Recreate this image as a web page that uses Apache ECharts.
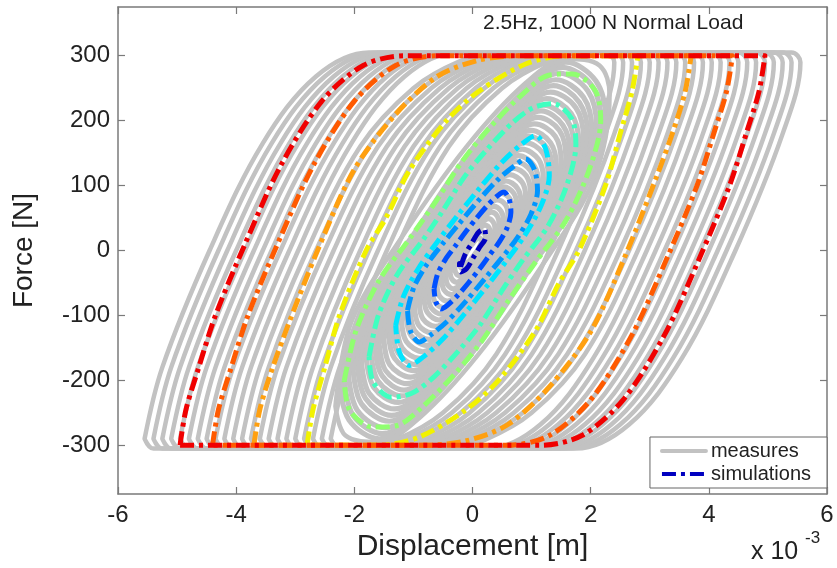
<!DOCTYPE html>
<html><head><meta charset="utf-8">
<script src="https://cdn.jsdelivr.net/npm/echarts@6/dist/echarts.min.js"></script>
<style>html,body{margin:0;padding:0;background:#fff}#c{width:837px;height:568px}</style>
</head><body><div id="c"></div>
<script>
// Axis ticks (displacement in units of 1e-3 m, force in N)
const xTicks = [-6, -4, -2, 0, 2, 4, 6];
const yTicks = [-300, -200, -100, 0, 100, 200, 300];

// ---- Simulated loops (dash-dot, jet colours) ----
const simDarkBlue = [[-0.2,-25],[-0.12,-5],[-0.02,10],[0.1,28],[0.2,33],[0.22,20],[0.12,5],[0.02,-10],[-0.1,-28],[-0.2,-33],[-0.22,-20],[-0.2,-25]];
const simBlue = [[-0.65,-59],[-0.59,-36],[-0.46,-14],[-0.29,7],[-0.13,27],[0.07,50],[0.26,70],[0.42,84],[0.53,90],[0.62,79],[0.65,59],[0.59,36],[0.46,14],[0.29,-7],[0.13,-27],[-0.07,-50],[-0.26,-70],[-0.42,-84],[-0.53,-90],[-0.62,-79],[-0.65,-59]];
const simLightBlue = [[-1.1,-92],[-0.99,-56],[-0.77,-21],[-0.5,11],[-0.22,42],[0.11,78],[0.44,110],[0.72,131],[0.9,141],[1.05,124],[1.1,92],[0.99,56],[0.77,21],[0.5,-11],[0.22,-42],[-0.11,-78],[-0.44,-110],[-0.72,-131],[-0.9,-141],[-1.05,-124],[-1.1,-92]];
const simCyan = [[-1.3,-115],[-1.17,-71],[-0.91,-27],[-0.59,14],[-0.26,53],[0.13,97],[0.52,138],[0.85,165],[1.07,177],[1.24,156],[1.3,115],[1.17,71],[0.91,27],[0.59,-14],[0.26,-53],[-0.13,-97],[-0.52,-138],[-0.85,-165],[-1.07,-177],[-1.24,-156],[-1.3,-115]];
const simAqua = [[-1.75,-163],[-1.59,-99],[-1.28,-38],[-0.84,16],[-0.49,63],[-0.14,113],[0.23,154],[0.68,197],[1.03,220],[1.37,226],[1.68,203],[1.75,163],[1.59,99],[1.28,38],[0.84,-16],[0.49,-63],[0.14,-113],[-0.23,-154],[-0.68,-197],[-1.03,-220],[-1.37,-226],[-1.68,-203],[-1.75,-163]];
const simLightGreen = [[-2.17,-200],[-1.97,-123],[-1.58,-46],[-1.05,20],[-0.61,77],[-0.17,138],[0.29,189],[0.85,241],[1.29,270],[1.69,272],[2.08,246],[2.17,200],[1.97,123],[1.58,46],[1.05,-20],[0.61,-77],[0.17,-138],[-0.29,-189],[-0.85,-241],[-1.29,-270],[-1.69,-272],[-2.08,-246],[-2.17,-200]];
const simYellow = [[-2.8,-300],[-2.7,-245],[-2.5,-180],[-2.25,-100],[-1.8,0],[-1.46,51],[-1.07,123],[-0.44,200],[0.12,246],[0.92,288],[1.6,300],[2.8,300],[2.7,245],[2.5,180],[2.25,100],[1.8,0],[1.46,-51],[1.07,-123],[0.44,-200],[-0.12,-246],[-0.92,-288],[-1.6,-300],[-2.8,-300]];
const simOrange = [[-3.7,-300],[-3.6,-245],[-3.4,-185],[-3.1,-110],[-2.6,5],[-2,125],[-1.3,210],[-0.6,268],[0.1,293],[0.8,300],[3.7,300],[3.6,245],[3.4,185],[3.1,110],[2.6,-5],[2,-125],[1.3,-210],[0.6,-268],[-0.1,-293],[-0.8,-300],[-3.7,-300]];
const simDarkOrange = [[-4.4,-300],[-4.3,-245],[-4.1,-185],[-3.8,-100],[-3.3,10],[-2.7,130],[-2,230],[-1.3,285],[-0.6,300],[4.4,300],[4.3,245],[4.1,185],[3.8,100],[3.3,-10],[2.7,-130],[2,-230],[1.3,-285],[0.6,-300],[-4.4,-300]];
const simRed = [[-4.95,-300],[-4.85,-245],[-4.65,-185],[-4.35,-100],[-3.85,10],[-3.25,130],[-2.55,230],[-1.85,285],[-1.15,300],[4.95,300],[4.85,245],[4.65,185],[4.35,100],[3.85,-10],[3.25,-130],[2.55,-230],[1.85,-285],[1.15,-300],[-4.95,-300]];

const simLoops = [simDarkBlue, simBlue, simLightBlue, simCyan, simAqua, simLightGreen, simYellow, simOrange, simDarkOrange, simRed];
const simColors = ['#0000c0', '#0050ff', '#0095ff', '#00e5ff', '#40ffc0', '#90ff70', '#f2f200', '#ffa010', '#ff5a00', '#f00000'];

// ---- Measured loops (grey) ----
const measured015 = [[-0.15,-14],[-0.12,-6],[-0.07,2],[0,10],[0.06,17],[0.11,20],[0.14,18],[0.15,14],[0.12,6],[0.07,-2],[0,-10],[-0.06,-17],[-0.11,-20],[-0.14,-18],[-0.15,-14]];
const measured022 = [[-0.22,-20],[-0.18,-9],[-0.1,2],[0,15],[0.09,25],[0.15,29],[0.2,26],[0.22,20],[0.18,9],[0.1,-2],[0,-15],[-0.09,-25],[-0.15,-29],[-0.2,-26],[-0.22,-20]];
const measured030 = [[-0.3,-27],[-0.25,-12],[-0.14,3],[-0.01,20],[0.12,34],[0.21,39],[0.28,35],[0.3,27],[0.25,12],[0.14,-3],[0.01,-20],[-0.12,-34],[-0.21,-39],[-0.28,-35],[-0.3,-27]];
const measured038 = [[-0.38,-35],[-0.31,-15],[-0.17,4],[-0.01,26],[0.15,42],[0.27,49],[0.35,44],[0.38,35],[0.31,15],[0.17,-4],[0.01,-26],[-0.15,-42],[-0.27,-49],[-0.35,-44],[-0.38,-35]];
const measured045 = [[-0.45,-41],[-0.37,-18],[-0.2,5],[-0.01,30],[0.18,50],[0.32,59],[0.42,53],[0.45,41],[0.37,18],[0.2,-5],[0.01,-30],[-0.18,-50],[-0.32,-59],[-0.42,-53],[-0.45,-41]];
const measured052 = [[-0.52,-47],[-0.43,-20],[-0.23,5],[-0.01,35],[0.21,58],[0.36,68],[0.48,61],[0.52,47],[0.43,20],[0.23,-5],[0.01,-35],[-0.21,-58],[-0.36,-68],[-0.48,-61],[-0.52,-47]];
const measured060 = [[-0.6,-55],[-0.49,-23],[-0.27,6],[-0.01,41],[0.24,67],[0.42,78],[0.56,70],[0.6,55],[0.49,23],[0.27,-6],[0.01,-41],[-0.24,-67],[-0.42,-78],[-0.56,-70],[-0.6,-55]];
const measured068 = [[-0.68,-62],[-0.56,-27],[-0.31,7],[-0.01,46],[0.27,76],[0.48,88],[0.63,80],[0.68,62],[0.56,27],[0.31,-7],[0.01,-46],[-0.27,-76],[-0.48,-88],[-0.63,-80],[-0.68,-62]];
const measured075 = [[-0.75,-68],[-0.62,-29],[-0.34,8],[-0.02,51],[0.3,84],[0.53,98],[0.7,88],[0.75,68],[0.62,29],[0.34,-8],[0.02,-51],[-0.3,-84],[-0.53,-98],[-0.7,-88],[-0.75,-68]];
const measured082 = [[-0.82,-75],[-0.67,-32],[-0.37,9],[-0.02,55],[0.33,92],[0.57,107],[0.76,96],[0.82,75],[0.67,32],[0.37,-9],[0.02,-55],[-0.33,-92],[-0.57,-107],[-0.76,-96],[-0.82,-75]];
const measured090 = [[-0.9,-82],[-0.74,-35],[-0.41,9],[-0.02,61],[0.36,101],[0.63,117],[0.84,105],[0.9,82],[0.74,35],[0.41,-9],[0.02,-61],[-0.36,-101],[-0.63,-117],[-0.84,-105],[-0.9,-82]];
const measured098 = [[-0.98,-89],[-0.8,-38],[-0.44,10],[-0.02,66],[0.39,110],[0.69,127],[0.91,115],[0.98,89],[0.8,38],[0.44,-10],[0.02,-66],[-0.39,-110],[-0.69,-127],[-0.91,-115],[-0.98,-89]];
const measured105 = [[-1.05,-96],[-0.86,-41],[-0.47,11],[-0.02,71],[0.42,117],[0.74,137],[0.98,123],[1.05,96],[0.86,41],[0.47,-11],[0.02,-71],[-0.42,-117],[-0.74,-137],[-0.98,-123],[-1.05,-96]];
const measured112 = [[-1.12,-102],[-0.92,-44],[-0.5,12],[-0.02,76],[0.45,125],[0.78,146],[1.04,131],[1.12,102],[0.92,44],[0.5,-12],[0.02,-76],[-0.45,-125],[-0.78,-146],[-1.04,-131],[-1.12,-102]];
const measured120 = [[-1.2,-109],[-0.98,-47],[-0.54,12],[-0.02,81],[0.48,134],[0.84,156],[1.12,140],[1.2,109],[0.98,47],[0.54,-12],[0.02,-81],[-0.48,-134],[-0.84,-156],[-1.12,-140],[-1.2,-109]];
const measured128 = [[-1.28,-116],[-1.05,-50],[-0.58,13],[-0.03,87],[0.51,143],[0.9,166],[1.19,150],[1.28,116],[1.05,50],[0.58,-13],[0.03,-87],[-0.51,-143],[-0.9,-166],[-1.19,-150],[-1.28,-116]];
const measured135 = [[-1.35,-123],[-1.11,-53],[-0.61,14],[-0.03,91],[0.54,151],[0.95,176],[1.26,158],[1.35,123],[1.11,53],[0.61,-14],[0.03,-91],[-0.54,-151],[-0.95,-176],[-1.26,-158],[-1.35,-123]];
const measured142 = [[-1.42,-129],[-1.16,-55],[-0.64,15],[-0.03,96],[0.57,159],[0.99,185],[1.32,166],[1.42,129],[1.16,55],[0.64,-15],[0.03,-96],[-0.57,-159],[-0.99,-185],[-1.32,-166],[-1.42,-129]];
const measured150 = [[-1.5,-137],[-1.23,-59],[-0.68,16],[-0.03,101],[0.6,168],[1.05,195],[1.4,176],[1.5,137],[1.23,59],[0.68,-16],[0.03,-101],[-0.6,-168],[-1.05,-195],[-1.4,-176],[-1.5,-137]];
const measured158 = [[-1.58,-144],[-1.3,-62],[-0.71,16],[-0.03,107],[0.63,177],[1.11,205],[1.47,185],[1.58,144],[1.3,62],[0.71,-16],[0.03,-107],[-0.63,-177],[-1.11,-205],[-1.47,-185],[-1.58,-144]];
const measured165 = [[-1.65,-150],[-1.35,-64],[-0.74,17],[-0.03,112],[0.66,184],[1.16,215],[1.53,193],[1.65,150],[1.35,64],[0.74,-17],[0.03,-112],[-0.66,-184],[-1.16,-215],[-1.53,-193],[-1.65,-150]];
const measured172 = [[-1.72,-157],[-1.41,-67],[-0.77,18],[-0.03,116],[0.69,192],[1.2,224],[1.6,201],[1.72,157],[1.41,67],[0.77,-18],[0.03,-116],[-0.69,-192],[-1.2,-224],[-1.6,-201],[-1.72,-157]];
const measured180 = [[-1.8,-164],[-1.48,-70],[-0.81,19],[-0.04,122],[0.72,201],[1.26,234],[1.67,211],[1.8,164],[1.48,70],[0.81,-19],[0.04,-122],[-0.72,-201],[-1.26,-234],[-1.67,-211],[-1.8,-164]];
const measured188 = [[-1.88,-171],[-1.54,-73],[-0.85,20],[-0.04,127],[0.75,210],[1.32,244],[1.75,220],[1.88,171],[1.54,73],[0.85,-20],[0.04,-127],[-0.75,-210],[-1.32,-244],[-1.75,-220],[-1.88,-171]];
const measured195 = [[-1.95,-177],[-1.6,-76],[-0.88,20],[-0.04,132],[0.78,218],[1.37,254],[1.81,228],[1.95,177],[1.6,76],[0.88,-20],[0.04,-132],[-0.78,-218],[-1.37,-254],[-1.81,-228],[-1.95,-177]];
const measured202 = [[-2.02,-184],[-1.66,-79],[-0.91,21],[-0.04,137],[0.81,226],[1.41,263],[1.88,236],[2.02,184],[1.66,79],[0.91,-21],[0.04,-137],[-0.81,-226],[-1.41,-263],[-1.88,-236],[-2.02,-184]];
const measured210 = [[-2.1,-191],[-1.72,-82],[-0.95,22],[-0.04,142],[0.84,235],[1.47,273],[1.95,246],[2.1,191],[1.72,82],[0.95,-22],[0.04,-142],[-0.84,-235],[-1.47,-273],[-1.95,-246],[-2.1,-191]];
const measured217 = [[-2.17,-197],[-1.78,-85],[-0.98,23],[-0.04,147],[0.87,243],[1.52,282],[2.02,254],[2.17,197],[1.78,85],[0.98,-23],[0.04,-147],[-0.87,-243],[-1.52,-282],[-2.02,-254],[-2.17,-197]];
const measured225 = [[-2.25,-203],[-1.85,-87],[-1.01,23],[-0.05,151],[0.9,249],[1.58,290],[2.09,261],[2.25,203],[1.85,87],[1.01,-23],[0.05,-151],[-0.9,-249],[-1.58,-290],[-2.09,-261],[-2.25,-203]];
const measured232 = [[-2.32,-240],[-2.05,-110],[-1.2,20],[-0.1,160],[0.9,258],[1.6,295],[2.15,285],[2.32,240],[2.05,110],[1.2,-20],[0.1,-160],[-0.9,-258],[-1.6,-295],[-2.15,-285],[-2.32,-240]];
const measured240 = [[-2.4,-290],[-2.1,-180],[-1.3,0],[-0.4,160],[0.5,250],[1.3,292],[1.9,305],[2.25,305],[2.4,290],[2.1,180],[1.3,0],[0.4,-160],[-0.5,-250],[-1.3,-292],[-1.9,-305],[-2.25,-305],[-2.4,-290]];
const measured255 = [[-2.55,-290],[-2.25,-180],[-1.45,0],[-0.55,160],[0.35,250],[1.15,292],[1.75,305],[2.4,305],[2.55,290],[2.25,180],[1.45,0],[0.55,-160],[-0.35,-250],[-1.15,-292],[-1.75,-305],[-2.4,-305],[-2.55,-290]];
const measured270 = [[-2.7,-290],[-2.4,-180],[-1.6,0],[-0.7,160],[0.2,250],[1,292],[1.6,305],[2.55,305],[2.7,290],[2.4,180],[1.6,0],[0.7,-160],[-0.2,-250],[-1,-292],[-1.6,-305],[-2.55,-305],[-2.7,-290]];
const measured285 = [[-2.85,-290],[-2.55,-180],[-1.75,0],[-0.85,160],[0.05,250],[0.85,292],[1.45,305],[2.7,305],[2.85,290],[2.55,180],[1.75,0],[0.85,-160],[-0.05,-250],[-0.85,-292],[-1.45,-305],[-2.7,-305],[-2.85,-290]];
const measured300 = [[-3,-290],[-2.7,-180],[-1.9,0],[-1,160],[-0.1,250],[0.7,292],[1.3,305],[2.85,305],[3,290],[2.7,180],[1.9,0],[1,-160],[0.1,-250],[-0.7,-292],[-1.3,-305],[-2.85,-305],[-3,-290]];
const measured315 = [[-3.15,-290],[-2.85,-180],[-2.05,0],[-1.15,160],[-0.25,250],[0.55,292],[1.15,305],[3,305],[3.15,290],[2.85,180],[2.05,0],[1.15,-160],[0.25,-250],[-0.55,-292],[-1.15,-305],[-3,-305],[-3.15,-290]];
const measured330 = [[-3.3,-290],[-3,-180],[-2.2,0],[-1.3,160],[-0.4,250],[0.4,292],[1,305],[3.15,305],[3.3,290],[3,180],[2.2,0],[1.3,-160],[0.4,-250],[-0.4,-292],[-1,-305],[-3.15,-305],[-3.3,-290]];
const measured345 = [[-3.45,-290],[-3.15,-180],[-2.35,0],[-1.45,160],[-0.55,250],[0.25,292],[0.85,305],[3.3,305],[3.45,290],[3.15,180],[2.35,0],[1.45,-160],[0.55,-250],[-0.25,-292],[-0.85,-305],[-3.3,-305],[-3.45,-290]];
const measured360 = [[-3.6,-290],[-3.3,-180],[-2.5,0],[-1.6,160],[-0.7,250],[0.1,292],[0.7,305],[3.45,305],[3.6,290],[3.3,180],[2.5,0],[1.6,-160],[0.7,-250],[-0.1,-292],[-0.7,-305],[-3.45,-305],[-3.6,-290]];
const measured375 = [[-3.75,-290],[-3.45,-180],[-2.65,0],[-1.75,160],[-0.85,250],[-0.05,292],[0.55,305],[3.6,305],[3.75,290],[3.45,180],[2.65,0],[1.75,-160],[0.85,-250],[0.05,-292],[-0.55,-305],[-3.6,-305],[-3.75,-290]];
const measured390 = [[-3.9,-290],[-3.6,-180],[-2.8,0],[-1.9,160],[-1,250],[-0.2,292],[0.4,305],[3.75,305],[3.9,290],[3.6,180],[2.8,0],[1.9,-160],[1,-250],[0.2,-292],[-0.4,-305],[-3.75,-305],[-3.9,-290]];
const measured405 = [[-4.05,-290],[-3.75,-180],[-2.95,0],[-2.05,165],[-1.15,268],[-0.25,305],[3.9,305],[4.05,290],[3.75,180],[2.95,0],[2.05,-165],[1.15,-268],[0.25,-305],[-3.9,-305],[-4.05,-290]];
const measured420 = [[-4.2,-290],[-3.9,-180],[-3.1,0],[-2.2,165],[-1.3,268],[-0.4,305],[4.05,305],[4.2,290],[3.9,180],[3.1,0],[2.2,-165],[1.3,-268],[0.4,-305],[-4.05,-305],[-4.2,-290]];
const measured435 = [[-4.35,-290],[-4.05,-180],[-3.25,0],[-2.35,165],[-1.45,268],[-0.55,305],[4.2,305],[4.35,290],[4.05,180],[3.25,0],[2.35,-165],[1.45,-268],[0.55,-305],[-4.2,-305],[-4.35,-290]];
const measured450 = [[-4.5,-290],[-4.2,-180],[-3.4,0],[-2.5,165],[-1.6,268],[-0.7,305],[4.35,305],[4.5,290],[4.2,180],[3.4,0],[2.5,-165],[1.6,-268],[0.7,-305],[-4.35,-305],[-4.5,-290]];
const measured465 = [[-4.65,-290],[-4.35,-180],[-3.55,0],[-2.65,165],[-1.75,268],[-0.85,305],[4.5,305],[4.65,290],[4.35,180],[3.55,0],[2.65,-165],[1.75,-268],[0.85,-305],[-4.5,-305],[-4.65,-290]];
const measured480 = [[-4.8,-290],[-4.5,-180],[-3.7,0],[-2.8,165],[-1.9,268],[-1,305],[4.65,305],[4.8,290],[4.5,180],[3.7,0],[2.8,-165],[1.9,-268],[1,-305],[-4.65,-305],[-4.8,-290]];
const measured495 = [[-4.95,-290],[-4.65,-180],[-3.85,0],[-2.95,165],[-2.05,268],[-1.15,305],[4.8,305],[4.95,290],[4.65,180],[3.85,0],[2.95,-165],[2.05,-268],[1.15,-305],[-4.8,-305],[-4.95,-290]];
const measured510 = [[-5.1,-290],[-4.8,-180],[-4,0],[-3.1,165],[-2.2,268],[-1.3,305],[4.95,305],[5.1,290],[4.8,180],[4,0],[3.1,-165],[2.2,-268],[1.3,-305],[-4.95,-305],[-5.1,-290]];
const measured525 = [[-5.25,-290],[-4.95,-180],[-4.15,0],[-3.25,165],[-2.35,268],[-1.45,305],[5.1,305],[5.25,290],[4.95,180],[4.15,0],[3.25,-165],[2.35,-268],[1.45,-305],[-5.1,-305],[-5.25,-290]];
const measured540 = [[-5.4,-290],[-5.1,-180],[-4.3,0],[-3.4,165],[-2.5,268],[-1.6,305],[5.25,305],[5.4,290],[5.1,180],[4.3,0],[3.4,-165],[2.5,-268],[1.6,-305],[-5.25,-305],[-5.4,-290]];
const measured555 = [[-5.55,-290],[-5.25,-180],[-4.45,0],[-3.55,165],[-2.65,268],[-1.75,305],[5.4,305],[5.55,290],[5.25,180],[4.45,0],[3.55,-165],[2.65,-268],[1.75,-305],[-5.4,-305],[-5.55,-290]];

const measuredLoops = [measured015, measured022, measured030, measured038, measured045, measured052, measured060, measured068, measured075, measured082, measured090, measured098, measured105, measured112, measured120, measured128, measured135, measured142, measured150, measured158, measured165, measured172, measured180, measured188, measured195, measured202, measured210, measured217, measured225, measured232, measured240, measured255, measured270, measured285, measured300, measured315, measured330, measured345, measured360, measured375, measured390, measured405, measured420, measured435, measured450, measured465, measured480, measured495, measured510, measured525, measured540, measured555];

const FONT = '"Liberation Sans", Arial, Helvetica, sans-serif';
const AX = '#7a7a7a';
const GREY = '#c2c2c2';

const series = [];
measuredLoops.forEach(function (loop, i) {
  series.push({
    name: 'measures', type: 'line', data: loop, smooth: 0.35,
    symbol: 'none', showSymbol: false, silent: true, emphasis: {disabled: true},
    itemStyle: {color: GREY},
    lineStyle: {color: GREY, width: i < 29 ? 5.2 : 4.5, cap: 'round', join: 'round'}, z: 2
  });
});
simLoops.forEach(function (loop, i) {
  series.push({
    name: 'simulations', type: 'line', data: loop, smooth: 0.3,
    symbol: 'none', showSymbol: false, silent: true, emphasis: {disabled: true},
    itemStyle: {color: simColors[i]},
    lineStyle: {color: simColors[i], width: 5, type: [14, 5, 4, 5], join: 'round'}, z: 3
  });
});

const chart = echarts.init(document.getElementById('c'), null, {renderer: 'canvas'});
chart.setOption({
  animation: false,
  backgroundColor: '#ffffff',
  textStyle: {fontFamily: FONT},
  title: {
    text: '2.5Hz, 1000 N Normal Load', left: 483, top: 13, padding: 0,
    textStyle: {fontSize: 21, fontWeight: 'normal', color: '#1e1e1e', fontFamily: FONT}
  },
  grid: {left: 118, right: 10, top: 7, bottom: 74, containLabel: false},
  xAxis: [{
    type: 'value', min: -6, max: 6, interval: 2, position: 'bottom',
    name: 'Displacement [m]', nameLocation: 'middle', nameGap: 28,
    nameTextStyle: {fontSize: 30, color: '#222', fontFamily: FONT},
    axisLine: {show: true, onZero: false, lineStyle: {color: AX, width: 1.5}},
    axisTick: {show: true, inside: true, length: 7, lineStyle: {color: AX, width: 1.2}},
    axisLabel: {show: true, fontSize: 24, color: '#222', margin: 9, fontFamily: FONT},
    splitLine: {show: false}
  }, {
    type: 'value', min: -6, max: 6, interval: 2, position: 'top',
    axisLine: {show: true, onZero: false, lineStyle: {color: AX, width: 1.5}},
    axisTick: {show: true, inside: true, length: 7, lineStyle: {color: AX, width: 1.2}},
    axisLabel: {show: false}, splitLine: {show: false}
  }],
  yAxis: [{
    type: 'value', min: -375, max: 375, position: 'left',
    name: 'Force [N]', nameLocation: 'middle', nameGap: 80, nameRotate: 90,
    nameTextStyle: {fontSize: 28, color: '#222', fontFamily: FONT},
    axisLine: {show: true, onZero: false, lineStyle: {color: AX, width: 1.5}},
    axisTick: {show: true, inside: true, length: 7, customValues: yTicks, lineStyle: {color: AX, width: 1.2}},
    axisLabel: {show: true, fontSize: 24, color: '#222', margin: 8, customValues: yTicks, fontFamily: FONT},
    splitLine: {show: false}
  }, {
    type: 'value', min: -375, max: 375, position: 'right',
    axisLine: {show: true, onZero: false, lineStyle: {color: AX, width: 1.5}},
    axisTick: {show: true, inside: true, length: 7, customValues: yTicks, lineStyle: {color: AX, width: 1.2}},
    axisLabel: {show: false}, splitLine: {show: false}
  }],
  legend: {
    data: ['measures', 'simulations'], orient: 'vertical', right: 10, bottom: 80,
    selectedMode: false, backgroundColor: '#ffffff', borderColor: '#666', borderWidth: 1,
    padding: [4, 16, 4, 10], itemGap: 3, itemWidth: 44, itemHeight: 14,
    itemStyle: {opacity: 0},
    lineStyle: {width: 4},
    textStyle: {fontSize: 20, color: '#222', fontFamily: FONT}
  },
  graphic: [
    {type: 'text', left: 751, top: 540, silent: true,
     style: {text: 'x 10', fontSize: 25, fill: '#222', fontFamily: FONT}},
    {type: 'text', left: 805, top: 530, silent: true,
     style: {text: '-3', fontSize: 17, fill: '#222', fontFamily: FONT}}
  ],
  series: series
});
</script>
</body></html>
